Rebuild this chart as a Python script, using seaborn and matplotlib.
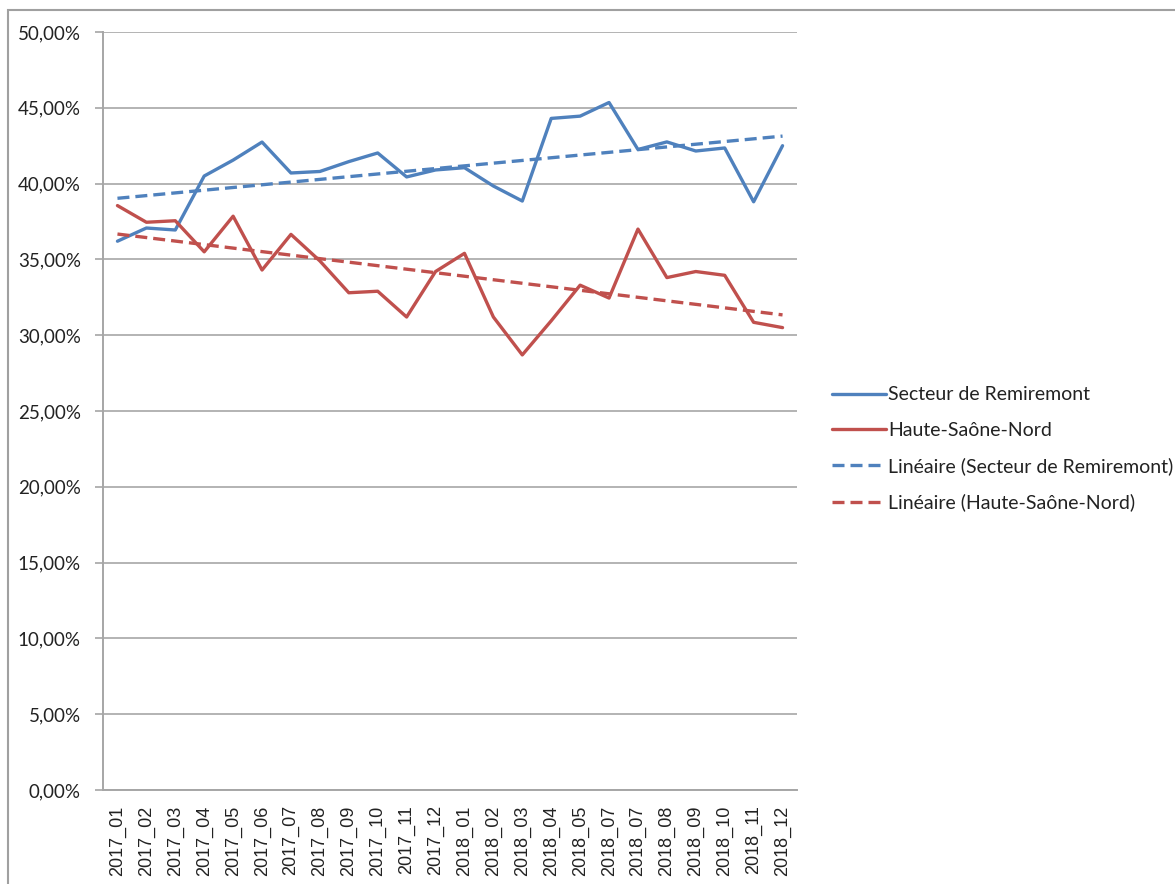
import numpy as np
import pandas as pd
import matplotlib
matplotlib.use("Agg")
import matplotlib.pyplot as plt
from matplotlib.patches import Rectangle
from matplotlib.lines import Line2D
from matplotlib.ticker import FuncFormatter, FixedLocator
import seaborn as sns

months = ["2017_01", "2017_02", "2017_03", "2017_04", "2017_05", "2017_06",
          "2017_07", "2017_08", "2017_09", "2017_10", "2017_11", "2017_12",
          "2018_01", "2018_02", "2018_03", "2018_04", "2018_05", "2018_07",
          "2018_07", "2018_08", "2018_09", "2018_10", "2018_11", "2018_12"]

remiremont = [36.2, 37.07, 36.94, 40.5, 41.55, 42.74, 40.7, 40.8, 41.45, 42.02,
              40.44, 40.9, 41.05, 39.84, 38.85, 44.3, 44.45, 45.35, 42.25, 42.75,
              42.15, 42.35, 38.8, 42.5]
haute_saone = [38.55, 37.45, 37.55, 35.5, 37.85, 34.3, 36.65, 34.9, 32.8, 32.9,
               31.2, 34.2, 35.4, 31.2, 28.7, 30.95, 33.3, 32.45, 37.0, 33.8,
               34.2, 33.95, 30.85, 30.5]

series_names = ["Secteur de Remiremont", "Haute-Saône-Nord"]
colors = ["#4F81BD", "#C0504D"]

sns.set_theme(style="white")
plt.rcParams["font.family"] = ["Lato", "DejaVu Sans"]

W, H = 1175, 884
fig = plt.figure(figsize=(W / 100, H / 100), dpi=100)
ax = fig.add_axes([103 / W, 1 - 790 / H, (797 - 103) / W, (790 - 32) / H])

xpos = np.arange(len(months))
df = pd.DataFrame({
    "x": np.concatenate([xpos, xpos]),
    "value": remiremont + haute_saone,
    "series": [series_names[0]] * len(months) + [series_names[1]] * len(months),
})

sns.lineplot(data=df, x="x", y="value", hue="series", palette=colors,
             hue_order=series_names, linewidth=2.4, legend=False, ax=ax,
             zorder=3)
for name, c in zip(series_names, colors):
    sub = df[df["series"] == name]
    sns.regplot(data=sub, x="x", y="value", scatter=False, ci=None, ax=ax,
                line_kws=dict(color=c, linewidth=2.4, linestyle=(0, (3.6, 1.8)),
                              zorder=4), truncate=True)

ax.set_xlim(-0.5, len(months) - 0.5)
ax.set_ylim(0, 50)
ax.set_yticks(np.arange(0, 50.1, 5))
ax.yaxis.set_major_formatter(FuncFormatter(lambda v, p: f"{v:.2f}%".replace(".", ",")))
ax.set_xticks(xpos)
ax.set_xticklabels(months, rotation=90, fontsize=13, family=["Liberation Sans", "DejaVu Sans"],
                   color="#222222")
ax.xaxis.set_minor_locator(FixedLocator(np.arange(-0.5, len(months), 1.0)))
ax.tick_params(axis="x", which="major", length=0, pad=11)
ax.tick_params(axis="x", which="minor", length=6, width=1.2, color="#A6A6A6", direction="out")
ax.tick_params(axis="y", which="major", length=6, width=1.2, color="#A6A6A6",
               direction="out", labelsize=13.5, labelcolor="#222222", pad=10, left=True)
ax.grid(axis="y", color="#B3B3B3", linewidth=1.4)
ax.grid(axis="x", visible=False)
ax.set_axisbelow(True)
for s in ["top", "right"]:
    ax.spines[s].set_visible(False)
for s in ["left", "bottom"]:
    ax.spines[s].set_color("#A6A6A6")
    ax.spines[s].set_linewidth(1.4)
ax.set_xlabel("")
ax.set_ylabel("")

handles = [
    Line2D([], [], color=colors[0], lw=2.4),
    Line2D([], [], color=colors[1], lw=2.4),
    Line2D([], [], color=colors[0], lw=2.4, ls=(0, (3.6, 1.8))),
    Line2D([], [], color=colors[1], lw=2.4, ls=(0, (3.6, 1.8))),
]
labels = series_names + ["Linéaire (" + n + ")" for n in series_names]
fig.legend(handles, labels, loc="center left", bbox_to_anchor=(814 / W, 1 - 449 / H),
           frameon=False, fontsize=14, handlelength=2.8, handletextpad=0.1,
           labelspacing=0.95, labelcolor="#222222")

fig.patches.append(Rectangle((8 / W, -0.05), 1.2, 1 - 10 / H + 0.05,
                             transform=fig.transFigure, fill=False,
                             edgecolor="#A0A0A0", linewidth=1.5))

fig.savefig("out.png", dpi=100)
